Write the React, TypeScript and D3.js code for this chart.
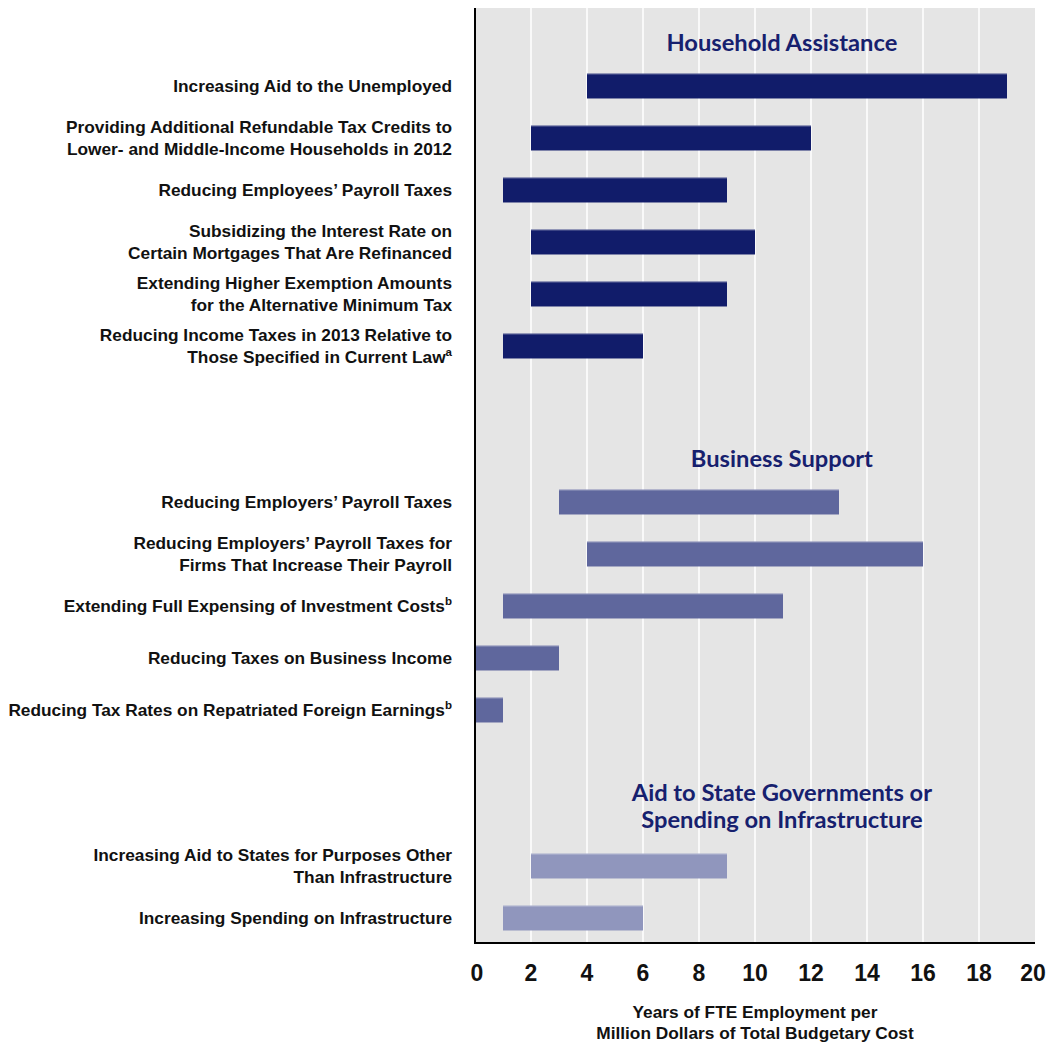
import React from "react";
import * as d3 from "d3";

// ---------- data ----------
const groups = ["Household Assistance", "Business Support", "Aid to State Governments or\nSpending on Infrastructure"];

const householdLabels = [
  "Increasing Aid to the Unemployed",
  "Providing Additional Refundable Tax Credits to\nLower- and Middle-Income Households in 2012",
  "Reducing Employees’ Payroll Taxes",
  "Subsidizing the Interest Rate on\nCertain Mortgages That Are Refinanced",
  "Extending Higher Exemption Amounts\nfor the Alternative Minimum Tax",
  "Reducing Income Taxes in 2013 Relative to\nThose Specified in Current Law^a",
];
const householdLow = [4, 2, 1, 2, 2, 1];
const householdHigh = [19, 12, 9, 10, 9, 6];

const businessLabels = [
  "Reducing Employers’ Payroll Taxes",
  "Reducing Employers’ Payroll Taxes for\nFirms That Increase Their Payroll",
  "Extending Full Expensing of Investment Costs^b",
  "Reducing Taxes on Business Income",
  "Reducing Tax Rates on Repatriated Foreign Earnings^b",
];
const businessLow = [3, 4, 1, 0, 0];
const businessHigh = [13, 16, 11, 3, 1];

const stateLabels = [
  "Increasing Aid to States for Purposes Other\nThan Infrastructure",
  "Increasing Spending on Infrastructure",
];
const stateLow = [2, 1];
const stateHigh = [9, 6];

const xTicks = [0, 2, 4, 6, 8, 10, 12, 14, 16, 18, 20];
const axisTitle = ["Years of FTE Employment per", "Million Dollars of Total Budgetary Cost"];
const groupColors = ["#111c6a", "#5f679d", "#9096bd"];

// ---------- layout ----------
type Row = { key: string; kind: "heading" | "bar" | "gap"; label?: string; low?: number; high?: number; group: number };
const rows: Row[] = [];
const groupData = [
  [householdLabels, householdLow, householdHigh],
  [businessLabels, businessLow, businessHigh],
  [stateLabels, stateLow, stateHigh],
] as [string[], number[], number[]][];
groupData.forEach(([labels, lows, highs], g) => {
  if (g > 0) rows.push({ key: `gap${g}`, kind: "gap", group: g });
  rows.push({ key: `head${g}`, kind: "heading", label: groups[g], group: g });
  labels.forEach((l, i) => rows.push({ key: `bar${g}-${i}`, kind: "bar", label: l, low: lows[i], high: highs[i], group: g }));
});

const W = 1051, H = 1043;
const plotL = 475, plotR = 1035, plotT = 8, plotB = 944;
const labelFont = "'Liberation Sans', Arial, sans-serif";
const headFont = "Lato, 'Open Sans', sans-serif";
const labelSize = 17.3;

function LabelText({ text, x, y }: { text: string; x: number; y: number }) {
  const lines = text.split("\n");
  const lh = 22;
  const y0 = y - ((lines.length - 1) * lh) / 2;
  return (
    <>
      {lines.map((ln, i) => {
        const m = ln.match(/^(.*)\^(\w)$/);
        return (
          <text key={i} x={x} y={y0 + i * lh} dy="0.35em" textAnchor="end" fontFamily={labelFont} fontWeight={700} fontSize={labelSize} fill="#111">
            {m ? (
              <>
                {m[1]}
                <tspan fontSize={11.5} dy="-7">{m[2]}</tspan>
              </>
            ) : (
              ln
            )}
          </text>
        );
      })}
    </>
  );
}

export default function App() {
  const x = d3.scaleLinear().domain([0, 20]).range([plotL, plotR]);
  const y = d3.scaleBand<string>().domain(rows.map((r) => r.key)).range([plotT, plotB]).paddingInner(0.52).paddingOuter(0.26);
  const grid = d3.range(2, 20, 2);
  return (
    <svg width={W} height={H} style={{ display: "block", position: "absolute", left: 0, top: 0 }}>
      <rect x={plotL} y={plotT} width={plotR - plotL} height={plotB - plotT} fill="#e5e5e5" />
      {grid.map((g) => (
        <line key={g} x1={x(g)} x2={x(g)} y1={plotT} y2={plotB} stroke="#fff" strokeWidth={1.5} />
      ))}
      {rows.map((r) => {
        const yc = (y(r.key) as number) + y.bandwidth() / 2;
        if (r.kind === "heading") {
          const lines = (r.label as string).split("\n");
          const lh = 27;
          const y0 = lines.length > 1 ? yc - 21 : yc + 9;
          return (
            <g key={r.key}>
              {lines.map((ln, i) => (
                <text key={i} x={x(10.96)} y={y0 + i * lh} dy="0.35em" textAnchor="middle" fontFamily={headFont} fontWeight={700} fontSize={23.7} fill="#16206e">
                  {ln}
                </text>
              ))}
            </g>
          );
        }
        if (r.kind === "bar") {
          return (
            <g key={r.key}>
              <rect x={x(r.low as number)} y={y(r.key)} width={x(r.high as number) - x(r.low as number)} height={y.bandwidth()} fill={groupColors[r.group]} />
              <line x1={x(r.low as number)} x2={x(r.high as number)} y1={(y(r.key) as number) + 0.5} y2={(y(r.key) as number) + 0.5} stroke="#fff" strokeOpacity={0.35} />
              <LabelText text={r.label as string} x={452} y={yc} />
            </g>
          );
        }
        return null;
      })}
      <line x1={plotL} x2={plotL} y1={plotT} y2={plotB} stroke="#000" strokeWidth={2} />
      <line x1={plotL} x2={plotR} y1={plotB - 1} y2={plotB - 1} stroke="#000" strokeWidth={2} />
      {xTicks.map((t) => (
        <text key={t} x={t === 0 ? x(t) + 2 : t === 20 ? x(t) - 2 : x(t)} y={973} dy="0.35em" textAnchor="middle" fontFamily={labelFont} fontWeight={700} fontSize={23} fill="#111">
          {t}
        </text>
      ))}
      {axisTitle.map((t, i) => (
        <text key={i} x={(plotL + plotR) / 2} y={1012 + i * 21} dy="0.35em" textAnchor="middle" fontFamily={labelFont} fontWeight={700} fontSize={labelSize} fill="#111">
          {t}
        </text>
      ))}
    </svg>
  );
}
